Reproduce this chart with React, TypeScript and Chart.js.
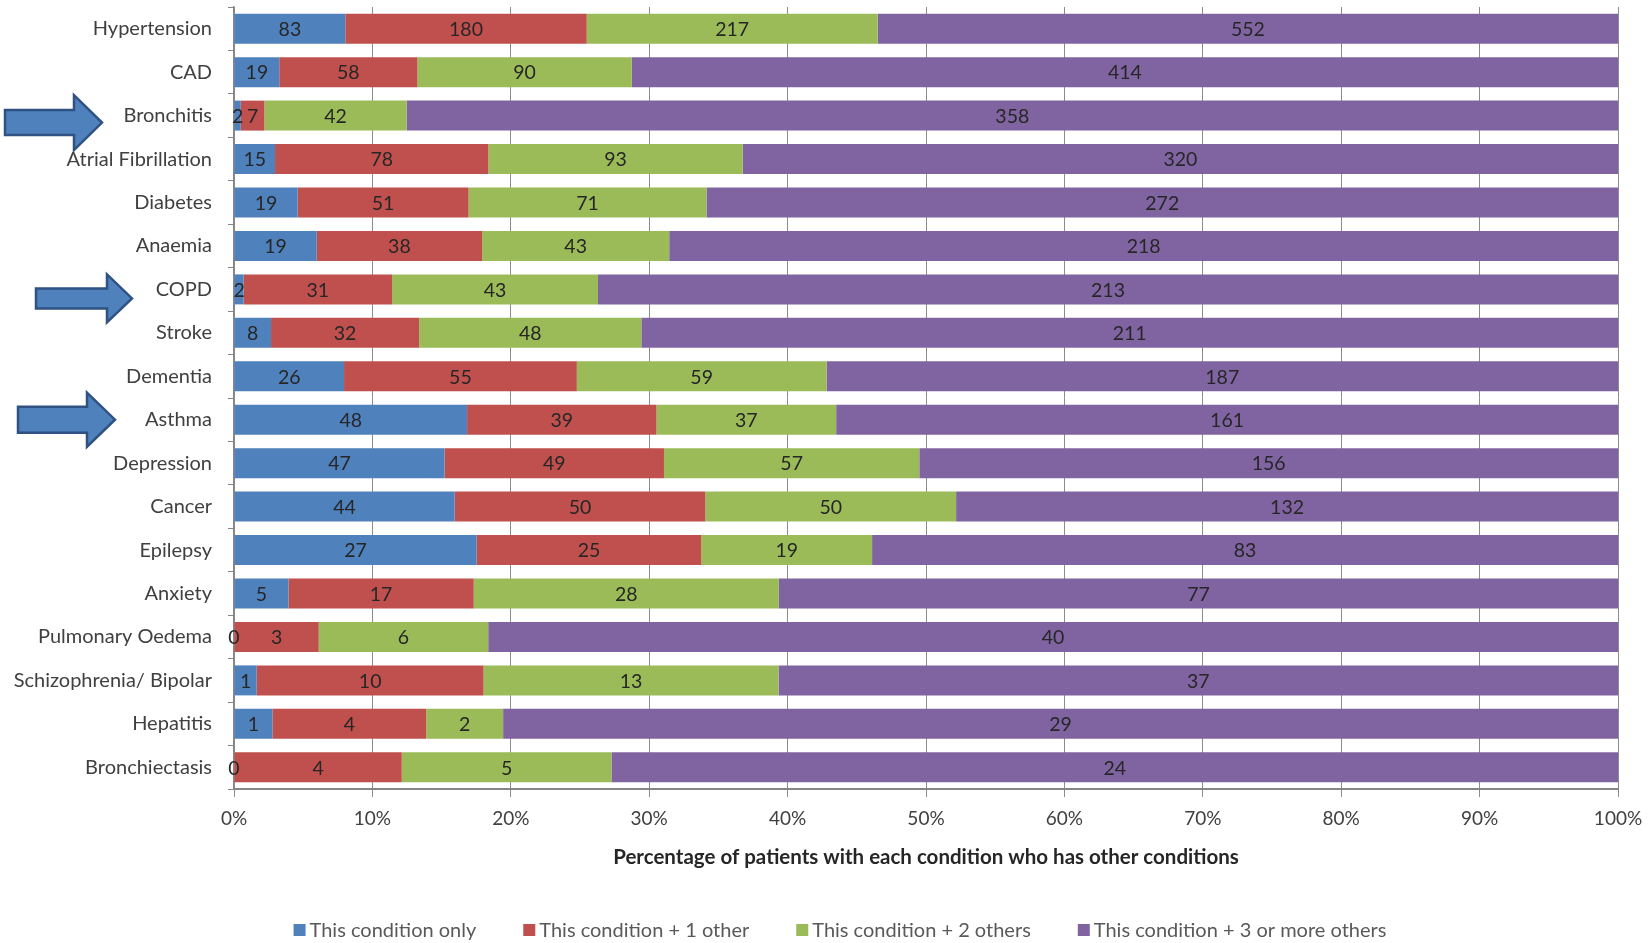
import React, { useEffect, useRef } from 'react';
import { Chart, registerables } from 'chart.js';

Chart.register(...registerables);

const categories = [
  'Hypertension', 'CAD', 'Bronchitis', 'Atrial Fibrillation', 'Diabetes', 'Anaemia',
  'COPD', 'Stroke', 'Dementia', 'Asthma', 'Depression', 'Cancer', 'Epilepsy',
  'Anxiety', 'Pulmonary Oedema', 'Schizophrenia/ Bipolar', 'Hepatitis', 'Bronchiectasis',
];
const conditionOnly = [83, 19, 2, 15, 19, 19, 2, 8, 26, 48, 47, 44, 27, 5, 0, 1, 1, 0];
const plusOneOther = [180, 58, 7, 78, 51, 38, 31, 32, 55, 39, 49, 50, 25, 17, 3, 10, 4, 4];
const plusTwoOthers = [217, 90, 42, 93, 71, 43, 43, 48, 59, 37, 57, 50, 19, 28, 6, 13, 2, 5];
const plusThreeOrMore = [552, 414, 358, 320, 272, 218, 213, 211, 187, 161, 156, 132, 83, 77, 40, 37, 29, 24];
const seriesNames = [
  'This condition only',
  'This condition + 1 other',
  'This condition + 2 others',
  'This condition + 3 or more others',
];
const xTickValues = [0, 10, 20, 30, 40, 50, 60, 70, 80, 90, 100];
const xTitle = 'Percentage of patients with each condition who has other conditions';
const arrowTargets = ['Bronchitis', 'COPD', 'Asthma'];

// styles (kept apart from data)
const seriesColors = ['#4F81BD', '#C0504D', '#9BBB59', '#8064A2'];
const FONT = 'Lato, "Open Sans", sans-serif';
const arrowShapes: Record<string, { tail: number; base: number; tip: number; body: number; head: number; dy: number }> = {
  Bronchitis: { tail: 5, base: 74, tip: 102, body: 12.5, head: 27.5, dy: 7 },
  COPD: { tail: 36, base: 107, tip: 132, body: 10, head: 24, dy: 9 },
  Asthma: { tail: 18, base: 87, tip: 115, body: 13, head: 27, dy: 0 },
};

const seriesCounts = [conditionOnly, plusOneOther, plusTwoOthers, plusThreeOrMore];
const totals = categories.map((_, i) => seriesCounts.reduce((s, arr) => s + arr[i], 0));

const labelsPlugin = {
  id: 'countLabels',
  afterDatasetsDraw(chart: any) {
    const ctx = chart.ctx;
    ctx.save();
    ctx.font = `19.5px ${FONT}`;
    ctx.fillStyle = '#262626';
    ctx.textAlign = 'center';
    ctx.textBaseline = 'middle';
    chart.data.datasets.forEach((ds: any, di: number) => {
      const meta = chart.getDatasetMeta(di);
      meta.data.forEach((el: any, i: number) => {
        const cx = (el.x + el.base) / 2;
        ctx.fillText(String(seriesCounts[di][i]), cx, el.y + 1);
      });
    });
    ctx.restore();
  },
};

const arrowsPlugin = {
  id: 'arrows',
  afterDraw(chart: any) {
    const ctx = chart.ctx;
    const yScale = chart.scales.y;
    ctx.save();
    arrowTargets.forEach((name) => {
      const idx = categories.indexOf(name);
      const g = arrowShapes[name];
      const cy = yScale.getPixelForValue(idx) + g.dy;
      ctx.beginPath();
      ctx.moveTo(g.tail, cy - g.body);
      ctx.lineTo(g.base, cy - g.body);
      ctx.lineTo(g.base, cy - g.head);
      ctx.lineTo(g.tip, cy);
      ctx.lineTo(g.base, cy + g.head);
      ctx.lineTo(g.base, cy + g.body);
      ctx.lineTo(g.tail, cy + g.body);
      ctx.closePath();
      ctx.fillStyle = '#4F81BD';
      ctx.fill();
      ctx.lineWidth = 2.5;
      ctx.strokeStyle = '#2F5283';
      ctx.stroke();
    });
    ctx.restore();
  },
};

const legendPlugin = {
  id: 'customLegend',
  afterDraw(chart: any) {
    const ctx = chart.ctx;
    ctx.save();
    ctx.font = `20px ${FONT}`;
    ctx.textBaseline = 'middle';
    ctx.textAlign = 'left';
    const box = 12;
    const boxGap = 4;
    const itemGap = 47;
    const widths = seriesNames.map((n) => box + boxGap + ctx.measureText(n).width);
    const total = widths.reduce((a, b) => a + b, 0) + itemGap * (seriesNames.length - 1);
    let x = 840 - total / 2;
    const y = 930;
    seriesNames.forEach((n, i) => {
      ctx.fillStyle = seriesColors[i];
      ctx.fillRect(x, y - box / 2, box, box);
      ctx.fillStyle = '#595959';
      ctx.fillText(n, x + box + boxGap, y + 1);
      x += widths[i] + itemGap;
    });
    ctx.restore();
  },
};

export default function App() {
  const canvasRef = useRef<HTMLCanvasElement | null>(null);

  useEffect(() => {
    if (!canvasRef.current) return;
    Chart.defaults.font.family = FONT;
    const chart = new Chart(canvasRef.current, {
      type: 'bar',
      data: {
        labels: categories,
        datasets: seriesCounts.map((arr, di) => ({
          label: seriesNames[di],
          data: arr.map((v, i) => (v / totals[i]) * 100),
          backgroundColor: seriesColors[di],
          borderWidth: 0,
          barPercentage: 0.69,
          categoryPercentage: 1,
        })),
      },
      options: {
        indexAxis: 'y',
        animation: false,
        responsive: true,
        maintainAspectRatio: false,
        devicePixelRatio: 1,
        layout: { padding: { top: 7, right: 31, bottom: 63, left: 0 } },
        plugins: {
          legend: { display: false },
          tooltip: { enabled: false },
        },
        scales: {
          x: {
            stacked: true,
            min: 0,
            max: 100,
            afterBuildTicks: (s: any) => {
              s.ticks = xTickValues.map((v) => ({ value: v }));
            },
            ticks: {
              callback: (v: any) => `${v}%`,
              padding: 10,
              color: '#404040',
              font: { size: 19 },
              maxRotation: 0,
              autoSkip: false,
            },
            grid: { color: '#8c8c8c', lineWidth: 1, tickLength: 8 },
            border: { color: '#868686', width: 2 },
            title: {
              display: true,
              text: xTitle,
              color: '#262626',
              font: { size: 20.5, weight: 'bold' },
              padding: { top: 4, bottom: 10 },
            },
            afterFit: (s: any) => {
              s.height = 91;
              s.paddingLeft = 0;
              s.paddingRight = 0;
            },
          },
          y: {
            stacked: true,
            grid: { drawOnChartArea: false, drawTicks: true, tickLength: 6, color: '#868686', offset: true },
            border: { color: '#868686', width: 1.5 },
            ticks: { padding: 16, color: '#404040', font: { size: 20 }, autoSkip: false },
            afterFit: (s: any) => {
              s.width = 234;
              s.paddingTop = 0;
              s.paddingBottom = 0;
            },
          },
        },
      } as any,
      plugins: [labelsPlugin, arrowsPlugin, legendPlugin],
    });
    return () => chart.destroy();
  }, []);

  return (
    <div style={{ position: 'fixed', left: 0, top: 0, width: 1649, height: 943, background: '#fff' }}>
      <canvas ref={canvasRef} />
    </div>
  );
}
